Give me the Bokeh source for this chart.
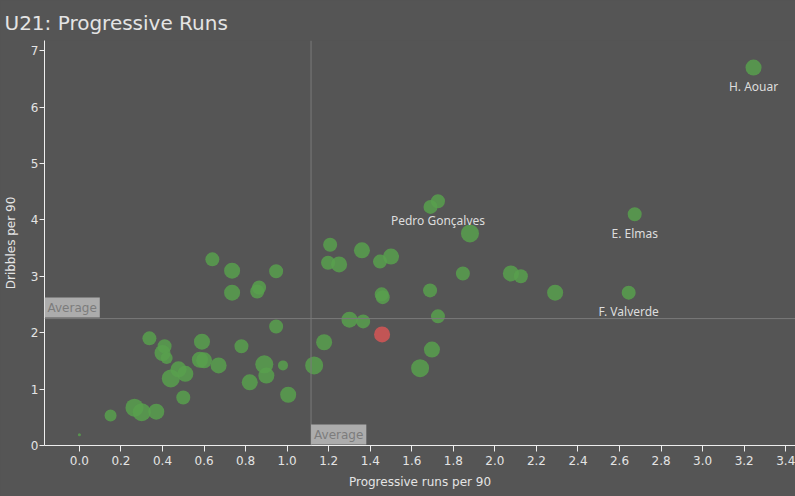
from bokeh.plotting import figure
from bokeh.models import Span, Label, FixedTicker, ColumnDataSource, Range1d
from bokeh.core.properties import value
from bokeh.embed import file_html
from bokeh.resources import INLINE

# ---- data ----
prog_runs = [3.245, 2.673, 2.644, 1.726, 1.69, 1.88, 0.64, 0.735, 0.947, 0.735,
             0.865, 0.856, 1.207, 1.36, 1.197, 1.25, 1.447, 1.50, 1.688, 1.455,
             1.46, 1.726, 1.30, 1.366, 1.457, 0.947, 1.178, 1.697, 1.64, 1.13,
             0.98, 0.89, 0.90, 0.82, 1.005, 0.78, 0.67, 0.59, 0.58, 0.60,
             0.337, 0.41, 0.40, 0.42, 0.477, 0.51, 0.44, 0.50, 0.265, 0.30,
             0.37, 0.15, 0.0, 1.846, 2.077, 2.125, 2.29]
dribbles = [6.70, 4.10, 2.71, 4.33, 4.23, 3.76, 3.30, 3.10, 3.09, 2.71,
            2.80, 2.73, 3.56, 3.46, 3.24, 3.21, 3.26, 3.35, 2.75, 2.68,
            2.63, 2.29, 2.23, 2.20, 1.97, 2.11, 1.83, 1.70, 1.37, 1.42,
            1.42, 1.44, 1.24, 1.12, 0.90, 1.76, 1.42, 1.84, 1.52, 1.51,
            1.90, 1.76, 1.64, 1.55, 1.35, 1.27, 1.19, 0.85, 0.67, 0.59,
            0.60, 0.53, 0.19, 3.05, 3.05, 3.00, 2.71]
marker_size = [16, 14, 14, 14, 14, 18, 14, 16, 14, 16,
               14, 14, 14, 16, 14, 16, 14, 16, 14, 14,
               14, 14, 16, 14, 16, 14, 16, 16, 18, 18,
               10, 18, 16, 16, 16, 14, 16, 16, 16, 16,
               14, 14, 16, 12, 16, 16, 18, 14, 18, 18,
               16, 12, 3, 14, 16, 14, 16]
highlight = [False] * len(prog_runs)
highlight[24] = True
player = [""] * len(prog_runs)
player[0] = "H. Aouar"
player[1] = "E. Elmas"
player[2] = "F. Valverde"
player[3] = "Pedro Gonçalves"

avg_runs = 1.115
avg_dribbles = 2.25
x_ticks = [0.0, 0.2, 0.4, 0.6, 0.8, 1.0, 1.2, 1.4, 1.6, 1.8, 2.0, 2.2, 2.4, 2.6, 2.8, 3.0, 3.2, 3.4]
y_ticks = [0, 1, 2, 3, 4, 5, 6, 7]

BG = "#555555"
GREEN = "#58a04e"
RED = "#d65656"
TXT = "#e4e4e4"

colors = [RED if h else GREEN for h in highlight]
src = ColumnDataSource(dict(x=prog_runs, y=dribbles, s=marker_size, c=colors))
lab_idx = [i for i, n in enumerate(player) if n]
lab_src = ColumnDataSource(dict(x=[prog_runs[i] for i in lab_idx],
                                y=[dribbles[i] for i in lab_idx],
                                t=[player[i] for i in lab_idx]))

p = figure(width=795, height=496, output_backend="svg", toolbar_location=None,
           x_range=Range1d(-0.168, 3.447), y_range=Range1d(0, 7.18),
           title="U21: Progressive Runs", min_border_right=0, min_border_top=40,
           min_border_left=0, min_border_bottom=51)
p.styles = {"background-color": BG}
p.background_fill_color = BG
p.border_fill_color = BG
p.outline_line_color = None
p.grid.visible = False

p.title.text_font = "DejaVu Sans"
p.title.text_font_size = "20px"
p.title.text_font_style = "normal"
p.title.text_color = TXT
p.title.offset = -40
p.title.standoff = 12

for ax in (p.xaxis[0], p.yaxis[0]):
    ax.axis_line_color = "#eeeeee"
    ax.major_tick_line_color = "#eeeeee"
    ax.minor_tick_line_color = None
    ax.major_tick_out = 6
    ax.major_tick_in = 0
    ax.major_label_text_color = TXT
    ax.major_label_text_font = "DejaVu Sans"
    ax.major_label_text_font_size = "12px"
    ax.axis_label_text_color = TXT
    ax.axis_label_text_font = "DejaVu Sans"
    ax.axis_label_text_font_size = "12px"
    ax.axis_label_text_font_style = "normal"

p.xaxis.ticker = FixedTicker(ticks=x_ticks)
p.xaxis.major_label_overrides = {t: f"{t:.1f}" for t in x_ticks}
p.yaxis.ticker = FixedTicker(ticks=y_ticks)
p.xaxis.axis_label = "Progressive runs per 90"
p.yaxis.axis_label = "Dribbles per 90"
p.xaxis.major_label_standoff = 4
p.xaxis.axis_label_standoff = 7
p.yaxis.major_tick_out = 5
p.yaxis.major_label_standoff = 1
p.yaxis.axis_label_standoff = 10

p.add_layout(Span(location=avg_runs, dimension="height", line_color="#7a7a7a", line_width=1))
p.add_layout(Span(location=avg_dribbles, dimension="width", line_color="#7a7a7a", line_width=1))

p.scatter("x", "y", size="s", fill_color="c", fill_alpha=0.85, line_color=None, source=src)

p.text("x", "y", text="t", source=lab_src, text_align="center", text_baseline="middle",
       y_offset=19, text_color="#dddddd", text_font=value("Noto Sans"), text_font_size="12px")

for (lx, ly) in [(-0.168, avg_dribbles), (avg_runs, 0)]:
    p.add_layout(Label(x=lx, y=ly, text="Average", text_align="left", text_baseline="bottom",
                       x_offset=0, y_offset=1,
                       text_color="#7c7c7c", text_font="DejaVu Sans", text_font_size="12px",
                       background_fill_color="#acacac", background_fill_alpha=1.0,
                       padding=3))

open("out.html", "w").write(file_html(p, INLINE))
